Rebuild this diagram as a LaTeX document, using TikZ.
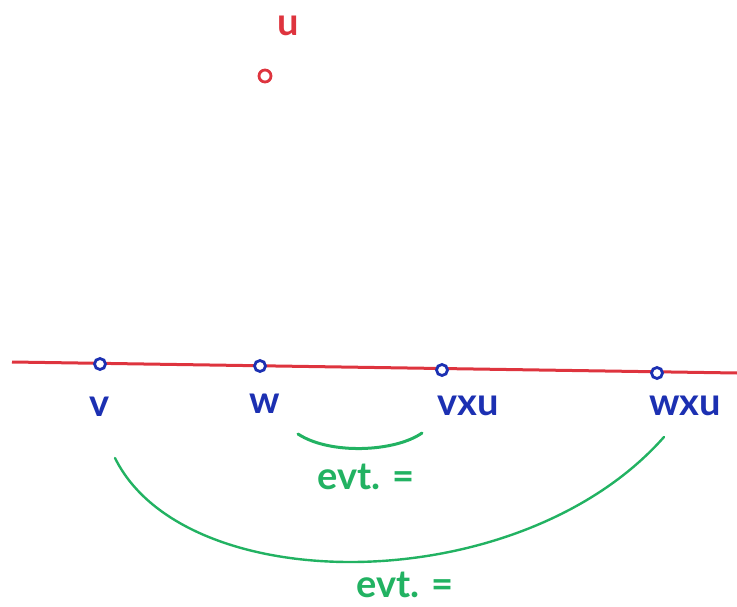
\documentclass[tikz,border=0pt]{standalone}
\usepackage{fontspec}
\setmainfont{Lato}
\definecolor{penred}{RGB}{222,52,62}
\definecolor{penblue}{RGB}{28,48,178}
\definecolor{pengreen}{RGB}{34,178,98}
\begin{document}
\begin{tikzpicture}[x=1pt,y=-1pt,
  dot/.style={circle,draw,line width=2.8pt,minimum size=11pt,inner sep=0pt,fill=white},
  lbl/.style={font=\fontsize{38}{42}\selectfont\bfseries,inner sep=0pt},
  arcline/.style={pengreen,line width=3pt,line cap=round}]
\useasboundingbox (0,0) rectangle (737,607);
% red line
\coordinate (L0) at (12,362);
\coordinate (L1) at (737,373);
\draw[penred,line width=3pt] (L0) -- (L1);
% u
\node[lbl,text=penred] (ulbl) at (288,26) {u};
\node[dot,draw=penred,minimum size=12pt] (u) at (265,76) {};
% points
\node[dot,draw=penblue] (v) at (100,364) {};
\node[dot,draw=penblue] (w) at (260,366) {};
\node[dot,draw=penblue] (vxu) at (442,370) {};
\node[dot,draw=penblue] (wxu) at (657,373) {};
\node[lbl,text=penblue] (vl) at (100,407) {v};
\node[lbl,text=penblue] (wl) at (265,404) {w};
\node[lbl,text=penblue] (vxul) at (468,406) {vxu};
\node[lbl,text=penblue] (wxul) at (685,406) {wxu};
% arcs
\coordinate (a1) at (298,434);
\coordinate (a2) at (422,433);
\draw[arcline] (a1) .. controls (330,455) and (395,452) .. (a2);
\node[lbl,text=pengreen] (e1) at (366,477) {evt. =};
\coordinate (b1) at (115,458);
\coordinate (b2) at (664,437);
\draw[arcline,line width=2.4pt] (b1) .. controls (185,600) and (520,600) .. (b2);
\node[lbl,text=pengreen] (e2) at (405,585) {evt. =};
\end{tikzpicture}
\end{document}
